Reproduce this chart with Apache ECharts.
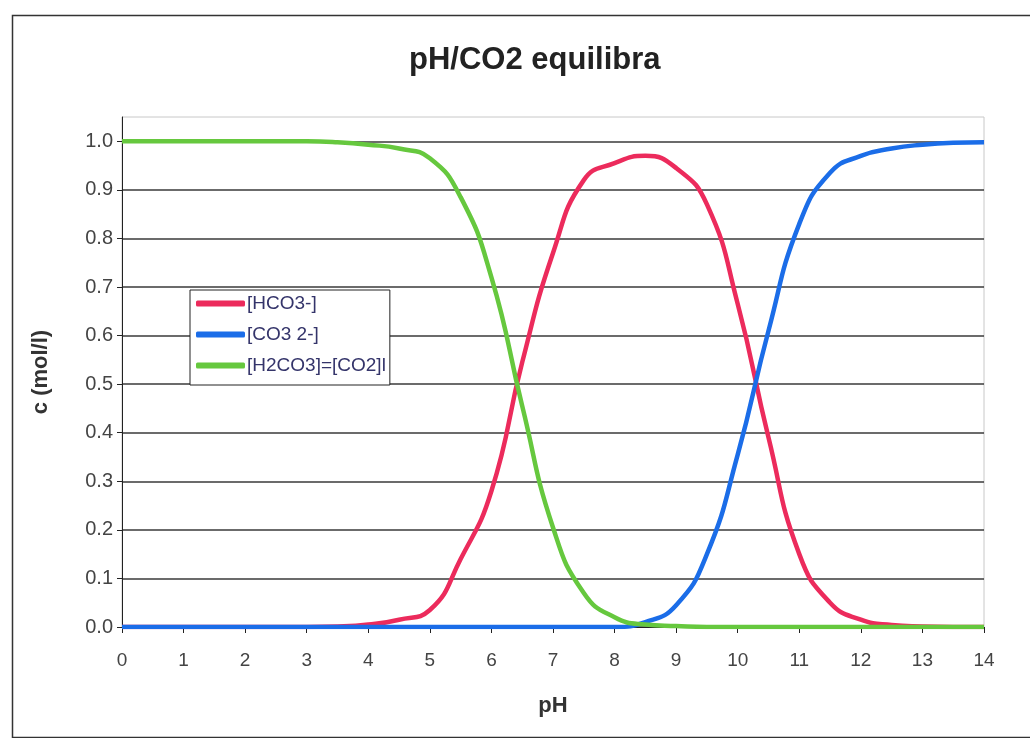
<!DOCTYPE html>
<html>
<head>
<meta charset="utf-8">
<script src="https://cdn.jsdelivr.net/npm/echarts@6/dist/echarts.min.js"></script>
<style>
html,body{margin:0;padding:0;background:#fff;}
#chart{width:1030px;height:738px;}
</style>
</head>
<body>
<div id="chart"></div>
<script>
// pH sample points
var ph = [0,0.5,1,1.5,2,2.5,3,3.5,4,4.5,5,5.5,6,6.5,7,7.5,8,8.5,9,9.5,10,10.5,11,11.5,12,12.5,13,13.5,14];
// [HCO3-]
var hco3 = [0,0,0,0,0,0,0,0.001,0.005,0.015,0.035,0.14,0.28,0.545,0.77,0.92,0.955,0.97,0.945,0.87,0.665,0.39,0.15,0.05,0.015,0.004,0.001,0,0];
// [CO3 2-]
var co3 = [0,0,0,0,0,0,0,0,0,0,0,0,0,0,0,0,0,0.01,0.045,0.15,0.355,0.61,0.83,0.935,0.97,0.985,0.993,0.997,0.998];
// [H2CO3]=[CO2]l
var h2co3 = [1,1,1,1,1,1,1,0.998,0.993,0.985,0.965,0.885,0.72,0.455,0.205,0.07,0.02,0.005,0.002,0,0,0,0,0,0,0,0,0,0];
var seriesNames = ['[HCO3-]','[CO3 2-]','[H2CO3]=[CO2]l'];
var yTicks = [0,0.1,0.2,0.3,0.4,0.5,0.6,0.7,0.8,0.9,1.0];

function pairs(ys){ return ph.map(function(x,i){ return [x, ys[i]]; }); }

var chart = echarts.init(document.getElementById('chart'));
var font = 'Liberation Sans, Arial, sans-serif';
chart.setOption({
  backgroundColor: '#fff',
  animation: false,
  title: {
    text: 'pH/CO2 equilibra',
    left: 404,
    top: 40,
    textStyle: {fontFamily: font, fontSize: 31, fontWeight: 'bold', color: '#222'}
  },
  graphic: [{
    type: 'rect', left: 10, top: 13, silent: true,
    shape: {width: 1030, height: 722},
    style: {fill: 'none', stroke: '#333', lineWidth: 1.5}
  }],
  grid: {left: 122, right: 46, top: 117, bottom: 111, show: true, borderColor: '#c8c8c8', borderWidth: 1, backgroundColor: '#fff'},
  legend: {
    orient: 'vertical', left: 190, top: 290,
    backgroundColor: '#fff', borderColor: '#222', borderWidth: 1,
    padding: [4, 4, 10, 6], itemGap: 12,
    icon: 'roundRect', itemWidth: 49, itemHeight: 6,
    textStyle: {fontFamily: font, fontSize: 19, color: '#34346a', padding: [0,0,0,-3]},
    data: seriesNames
  },
  xAxis: {
    type: 'value', min: 0, max: 14, interval: 1,
    name: 'pH', nameLocation: 'middle', nameGap: 68,
    nameTextStyle: {fontFamily: font, fontSize: 22, fontWeight: 'bold', color: '#333'},
    axisLine: {show: true, lineStyle: {color: '#222', width: 1}},
    axisTick: {show: true, length: 6, lineStyle: {color: '#222'}},
    axisLabel: {fontFamily: font, fontSize: 19, color: '#444', margin: 24},
    splitLine: {show: false}
  },
  yAxis: {
    type: 'value', min: 0, max: 1.05, interval: 0.1,
    name: 'c (mol/l)', nameLocation: 'middle', nameGap: 70, nameRotate: 90,
    nameTextStyle: {fontFamily: font, fontSize: 22, fontWeight: 'bold', color: '#333'},
    axisLine: {show: true, lineStyle: {color: '#222', width: 1}},
    axisTick: {show: true, length: 5, lineStyle: {color: '#222'}, customValues: yTicks},
    axisLabel: {fontFamily: font, fontSize: 20, color: '#444', margin: 9,
      customValues: yTicks,
      formatter: function(v){ return v.toFixed(1); }},
    splitLine: {show: true, lineStyle: {color: '#3a3a3a', width: 1.5}}
  },
  series: [
    {name: seriesNames[0], type: 'line', data: pairs(hco3), showSymbol: false, smooth: 0.5,
     color: '#ec2b5c', lineStyle: {width: 4.5, color: '#ec2b5c'}, z: 2},
    {name: seriesNames[1], type: 'line', data: pairs(co3), showSymbol: false, smooth: 0.5,
     color: '#1b6de8', lineStyle: {width: 4.5, color: '#1b6de8'}, z: 3},
    {name: seriesNames[2], type: 'line', data: pairs(h2co3), showSymbol: false, smooth: 0.5,
     color: '#66c83e', lineStyle: {width: 4.5, color: '#66c83e'}, z: 4}
  ]
});
</script>
</body>
</html>
